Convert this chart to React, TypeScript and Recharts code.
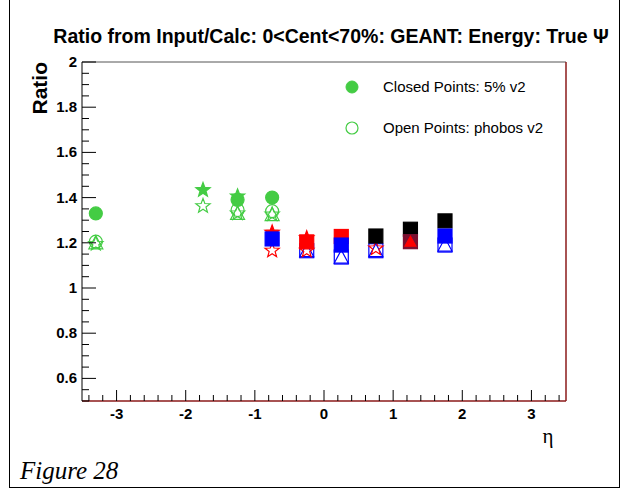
import { ScatterChart, Scatter, XAxis, YAxis, ReferenceLine } from 'recharts';

// eta / ratio values, one pair of arrays per marker style
const greenClosedCircleEta = [-3.3, -1.25, -0.75];
const greenClosedCircleRatio = [1.33, 1.39, 1.4];
const greenClosedStarEta = [-1.75, -1.25];
const greenClosedStarRatio = [1.438, 1.41];
const greenOpenCircleEta = [-3.3, -1.25, -0.75];
const greenOpenCircleRatio = [1.205, 1.345, 1.34];
const greenOpenStarEta = [-3.3, -1.75, -1.25, -0.75];
const greenOpenStarRatio = [1.2, 1.367, 1.335, 1.33];
const greenOpenTriEta = [-3.3, -1.25, -0.75];
const greenOpenTriRatio = [1.2, 1.33, 1.325];

const redOpenStarEta = [-0.75, -0.25, 0.75];
const redOpenStarRatio = [1.17, 1.17, 1.18];
const blueOpenTriEta = [-0.25, 0.25, 0.75, 1.75];
const blueOpenTriRatio = [1.165, 1.137, 1.165, 1.19];
const redClosedStarEta = [-0.75, -0.25];
const redClosedStarRatio = [1.25, 1.225];
const redClosedSquareEta = [-0.25, 0.25];
const redClosedSquareRatio = [1.204, 1.228];
const blueClosedSquareEta = [-0.75, 0.25, 1.75];
const blueClosedSquareRatio = [1.217, 1.19, 1.23];
const blackClosedSquareEta = [0.75, 1.25, 1.75];
const blackClosedSquareRatio = [1.23, 1.26, 1.297];
const maroonSquareEta = [1.25];
const maroonSquareRatio = [1.205];
const redClosedTriEta = [1.25];
const redClosedTriRatio = [1.205];

const xMajor = [-3, -2, -1, 0, 1, 2, 3];
const yMajor = [0.6, 0.8, 1, 1.2, 1.4, 1.6, 1.8, 2];
const xTicks: number[] = [];
for (let i = -17; i <= 17; i++) xTicks.push(Math.round(i * 2) / 10);
const yTicks: number[] = [];
for (let i = 10; i <= 40; i++) yTicks.push(Math.round(i * 5) / 100);

const GREEN = '#44cc44';
const FONT = '"Liberation Sans", Arial, sans-serif';

const toPoints = (xs: number[], ys: number[]) => xs.map((x, i) => ({ eta: x, ratio: ys[i] }));

const starPoints = (cx: number, cy: number, ro: number, ri: number) => {
    const pts: string[] = [];
    for (let k = 0; k < 10; k++) {
        const r = k % 2 === 0 ? ro : ri;
        const a = -Math.PI / 2 + (k * Math.PI) / 5;
        pts.push(`${cx + r * Math.cos(a)},${cy + r * Math.sin(a)}`);
    }
    return pts.join(' ');
};

const marker = (kind: string, color: string, filled: boolean, size = 7) => (props: any) => {
    const { cx, cy } = props;
    if (cx == null || cy == null) return <g />;
    const fill = filled ? color : 'none';
    const common = { fill, stroke: color, strokeWidth: 1.2 };
    const s = size;
    if (kind === 'circle') return <circle cx={cx} cy={cy} r={s - 0.5} {...common} />;
    if (kind === 'square') return <rect x={cx - s} y={cy - s} width={2 * s} height={2 * s} {...common} />;
    if (kind === 'triangle')
        return <polygon points={`${cx},${cy - s} ${cx + s},${cy + s - 1} ${cx - s},${cy + s - 1}`} {...common} />;
    return <polygon points={starPoints(cx, cy + 1, s + 0.5, s * 0.45)} {...common} />;
};

const XTick = (props: any) => {
    const { x, y, payload } = props;
    const v = payload.value;
    const major = xMajor.some((m) => Math.abs(m - v) < 1e-6);
    return (
        <g>
            <line x1={x} x2={x} y1={y} y2={y - (major ? 11 : 6)} stroke="#000" strokeWidth={1} />
            {major && (
                <text x={x} y={y + 18} textAnchor="middle" fontFamily={FONT} fontWeight="bold" fontSize={15} fill="#000">
                    {v}
                </text>
            )}
        </g>
    );
};

const YTick = (props: any) => {
    const { x, y, payload } = props;
    const v = payload.value;
    const major = yMajor.some((m) => Math.abs(m - v) < 1e-6);
    return (
        <g>
            <line x1={x} x2={x + (major ? 14 : 7)} y1={y} y2={y} stroke="#000" strokeWidth={1} />
            {major && (
                <text x={x - 5} y={y + 5} textAnchor="end" fontFamily={FONT} fontWeight="bold" fontSize={15} fill="#000">
                    {v}
                </text>
            )}
        </g>
    );
};

const series = [
    { name: 'greenOpenTri', data: toPoints(greenOpenTriEta, greenOpenTriRatio), shape: marker('triangle', GREEN, false) },
    { name: 'greenOpenStar', data: toPoints(greenOpenStarEta, greenOpenStarRatio), shape: marker('star', GREEN, false) },
    { name: 'greenOpenCircle', data: toPoints(greenOpenCircleEta, greenOpenCircleRatio), shape: marker('circle', GREEN, false) },
    { name: 'greenClosedCircle', data: toPoints(greenClosedCircleEta, greenClosedCircleRatio), shape: marker('circle', GREEN, true) },
    { name: 'greenClosedStar', data: toPoints(greenClosedStarEta, greenClosedStarRatio), shape: marker('star', GREEN, true) },
    { name: 'blueOpenTri', data: toPoints(blueOpenTriEta, blueOpenTriRatio), shape: marker('triangle', '#0000ff', false) },
    { name: 'blueOpenSq', data: toPoints(blueOpenTriEta, blueOpenTriRatio), shape: marker('square', '#0000ff', false) },
    { name: 'redOpenStar', data: toPoints(redOpenStarEta, redOpenStarRatio), shape: marker('star', '#ff0000', false) },
    { name: 'redClosedStar', data: toPoints(redClosedStarEta, redClosedStarRatio), shape: marker('star', '#ff0000', true) },
    { name: 'blackClosedSquare', data: toPoints(blackClosedSquareEta, blackClosedSquareRatio), shape: marker('square', '#000000', true) },
    { name: 'redClosedSquare', data: toPoints(redClosedSquareEta, redClosedSquareRatio), shape: marker('square', '#ff0000', true) },
    { name: 'blueClosedSquare', data: toPoints(blueClosedSquareEta, blueClosedSquareRatio), shape: marker('square', '#0000ff', true) },
    { name: 'maroonSquare', data: toPoints(maroonSquareEta, maroonSquareRatio), shape: marker('square', '#7a1030', true) },
    { name: 'redClosedTri', data: toPoints(redClosedTriEta, redClosedTriRatio), shape: marker('triangle', '#ff0000', true, 5.5) },
];

const App = () => {
    return (
        <div style={{ position: 'absolute', left: 0, top: 0, width: 629, height: 492, background: '#fff' }}>
            {/* page frame */}
            <div style={{ position: 'absolute', left: 9, top: -2, width: 611, height: 490, border: '1px solid #000', boxSizing: 'border-box' }} />
            <ScatterChart width={629} height={492} margin={{ top: 62, right: 63, left: 0, bottom: 0 }}>
                <XAxis
                    type="number"
                    dataKey="eta"
                    domain={[-3.5, 3.5]}
                    ticks={xTicks}
                    interval={0}
                    height={91}
                    tickLine={false}
                    tickSize={0}
                    tickMargin={0}
                    tick={<XTick />}
                    axisLine={{ stroke: '#8b1a1a', strokeWidth: 1.5 }}
                    allowDataOverflow
                />
                <YAxis
                    type="number"
                    dataKey="ratio"
                    domain={[0.5, 2]}
                    ticks={yTicks}
                    interval={0}
                    width={82}
                    tickLine={false}
                    tickSize={0}
                    tickMargin={0}
                    tick={<YTick />}
                    axisLine={{ stroke: '#000', strokeWidth: 1 }}
                    allowDataOverflow
                />
                <ReferenceLine y={2} stroke="#555" strokeWidth={1} />
                <ReferenceLine x={3.5} stroke="#8b1a1a" strokeWidth={1.5} />
                {series.map((s) => (
                    <Scatter key={s.name} name={s.name} data={s.data} shape={s.shape} isAnimationActive={false} />
                ))}
            </ScatterChart>
            <svg width={629} height={492} style={{ position: 'absolute', left: 0, top: 0, pointerEvents: 'none' }}>
                <text x={331} y={43} textAnchor="middle" fontFamily={FONT} fontWeight="bold" fontSize={19.5} fill="#000">
                    Ratio from Input/Calc: 0&lt;Cent&lt;70%: GEANT: Energy: True Ψ
                </text>
                <text transform="translate(47,62) rotate(-90)" textAnchor="end" fontFamily={FONT} fontWeight="bold" fontSize={21} fill="#000">
                    Ratio
                </text>
                <circle cx={352} cy={87} r={6} fill={GREEN} stroke={GREEN} />
                <text x={383} y={92} fontFamily={FONT} fontSize={15} fill="#000">Closed Points: 5% v2</text>
                <circle cx={352} cy={128} r={6} fill="none" stroke={GREEN} strokeWidth={1.2} />
                <text x={383} y={133} fontFamily={FONT} fontSize={15} fill="#000">Open Points: phobos v2</text>
                <text x={548} y={443} textAnchor="middle" fontFamily={'"Liberation Serif", serif'} fontSize={21} fill="#000">η</text>
                <text x={20} y={479} fontFamily={'"Liberation Serif", serif'} fontStyle="italic" fontSize={25} fill="#000">Figure 28</text>
            </svg>
        </div>
    );
};

export default App;
